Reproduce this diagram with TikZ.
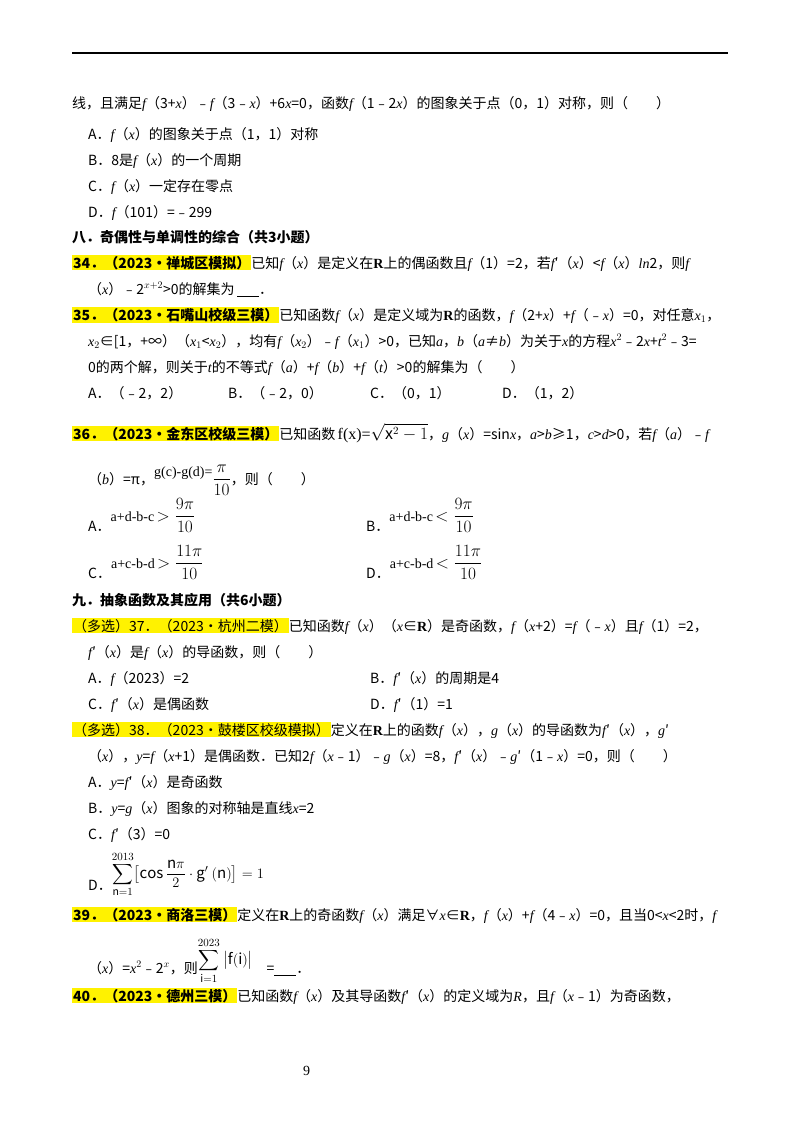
\documentclass[tikz,border=0pt]{standalone}
\usepackage{amsmath}
\usepackage{fontspec}
\setmainfont{Noto Sans CJK SC}
\newfontfamily\lib{Liberation Serif}
\newcommand\mv[1]{{\lib\itshape #1}}
\newcommand\rmq[1]{{\lib #1}}
\newcommand\bR{{\lib\bfseries R}}
\newcommand\hl[1]{\colorbox{yellow}{\bfseries #1}}
\begin{document}
\begin{tikzpicture}[x=1pt,y=-1pt,every node/.style={anchor=base west,inner sep=0pt,font=\fontsize{14}{16}\selectfont}]
\useasboundingbox (0,0) rectangle (800,1132);
\setlength{\fboxsep}{1pt}
\draw[line width=1.2pt] (72,53) -- (728,53);
\node (l1) at (72,108) {线，且满足\mv{f}（3+\mv{x}）﹣\mv{f}（3﹣\mv{x}）+6\mv{x}=0，函数\mv{f}（1﹣2\mv{x}）的图象关于点（0，1）对称，则（　　）};
\node (l2) at (88,139) {A．\mv{f}（\mv{x}）的图象关于点（1，1）对称};
\node (l3) at (88,165) {B．8是\mv{f}（\mv{x}）的一个周期};
\node (l4) at (88,191) {C．\mv{f}（\mv{x}）一定存在零点};
\node (l5) at (88,217) {D．\mv{f}（101）=﹣299};
\node (h8) at (72,242) {\bfseries 八．奇偶性与单调性的综合（共3小题）};
\node (q34) at (72,268) {\hl{34．（2023•禅城区模拟）}已知\mv{f}（\mv{x}）是定义在\bR 上的偶函数且\mv{f}（1）=2，若\mv{f}′（\mv{x}）<\mv{f}（\mv{x}）\mv{ln}2，则\mv{f}};
\node (q34b) at (88,294) {（\mv{x}）﹣2$^{x+2}$>0的解集为\,\underline{\hspace{22pt}}．};
\node (q35) at (72,320) {\hl{35．（2023•石嘴山校级三模）}已知函数\mv{f}（\mv{x}）是定义域为\bR 的函数，\mv{f}（2+\mv{x}）+\mv{f}（﹣\mv{x}）=0，对任意\mv{x}$_1$，};
\node (q35b) at (88,346) {\mv{x}$_2$∈[1，+∞）（\mv{x}$_1$<\mv{x}$_2$），均有\mv{f}（\mv{x}$_2$）﹣\mv{f}（\mv{x}$_1$）>0，已知\mv{a}，\mv{b}（\mv{a}≠\mv{b}）为关于\mv{x}的方程\mv{x}$^2$﹣2\mv{x}+\mv{t}$^2$﹣3=};
\node (q35c) at (88,372) {0的两个解，则关于\mv{t}的不等式\mv{f}（\mv{a}）+\mv{f}（\mv{b}）+\mv{f}（\mv{t}）>0的解集为（　　）};
\node (q35A) at (88,398) {A．（﹣2，2）};
\node (q35B) at (228,398) {B．（﹣2，0）};
\node (q35C) at (370,398) {C．（0，1）};
\node (q35D) at (502,398) {D．（1，2）};
\node (q36) at (72,439) {\hl{36．（2023•金东区校级三模）}已知函数\,{\fontsize{16}{18}\selectfont\rmq{f(x)=$\sqrt{\mathrm{x}^2-1}$}}，\mv{g}（\mv{x}）=sin\mv{x}，\mv{a}>\mv{b}≥1，\mv{c}>\mv{d}>0，若\mv{f}（\mv{a}）﹣\mv{f}};
\node (q36b) at (88,484) {（\mv{b}）=π，\raisebox{8pt}{\rmq{g(c)-g(d)=}}{\fontsize{16}{18}\selectfont$\dfrac{\pi}{10}$}，则（　　）};
\node (q36A) at (88,531) {A．\raisebox{10pt}{\rmq{a+d-b-c}\,{\fontsize{16}{18}\selectfont$>\dfrac{9\pi}{10}$}}};
\node (q36B) at (366,531) {B．\raisebox{10pt}{\rmq{a+d-b-c}\,{\fontsize{16}{18}\selectfont$<\dfrac{9\pi}{10}$}}};
\node (q36C) at (88,578) {C．\raisebox{10pt}{\rmq{a+c-b-d}\,{\fontsize{16}{18}\selectfont$>\dfrac{11\pi}{10}$}}};
\node (q36D) at (366,578) {D．\raisebox{10pt}{\rmq{a+c-b-d}\,{\fontsize{16}{18}\selectfont$<\dfrac{11\pi}{10}$}}};
\node (h9) at (72,605) {\bfseries 九．抽象函数及其应用（共6小题）};
\node (q37) at (72,631) {\hl{\mdseries （多选）37．（2023•杭州二模）}已知函数\mv{f}（\mv{x}）（\mv{x}∈\bR）是奇函数，\mv{f}（\mv{x}+2）=\mv{f}（﹣\mv{x}）且\mv{f}（1）=2，};
\node (q37b) at (88,657) {\mv{f}′（\mv{x}）是\mv{f}（\mv{x}）的导函数，则（　　）};
\node (q37A) at (88,683) {A．\mv{f}（2023）=2};
\node (q37B) at (370,683) {B．\mv{f}′（\mv{x}）的周期是4};
\node (q37C) at (88,709) {C．\mv{f}′（\mv{x}）是偶函数};
\node (q37D) at (370,709) {D．\mv{f}′（1）=1};
\node (q38) at (72,735) {\hl{\mdseries （多选）38．（2023•鼓楼区校级模拟）}定义在\bR 上的函数\mv{f}（\mv{x}），\mv{g}（\mv{x}）的导函数为\mv{f}′（\mv{x}），\mv{g}′};
\node (q38b) at (88,761) {（\mv{x}），\mv{y}=\mv{f}（\mv{x}+1）是偶函数．已知2\mv{f}（\mv{x}﹣1）﹣\mv{g}（\mv{x}）=8，\mv{f}′（\mv{x}）﹣\mv{g}′（1﹣\mv{x}）=0，则（　　）};
\node (q38A) at (88,787) {A．\mv{y}=\mv{f}′（\mv{x}）是奇函数};
\node (q38B) at (88,813) {B．\mv{y}=\mv{g}（\mv{x}）图象的对称轴是直线\mv{x}=2};
\node (q38C) at (88,839) {C．\mv{f}′（3）=0};
\node (q38D) at (88,890) {D．\raisebox{12pt}{\fontsize{15}{17}\selectfont$\displaystyle\sum_{\mathrm{n}=1}^{2013}\bigl[\cos\frac{\mathrm{n}\pi}{2}\cdot \mathrm{g}'\ (\mathrm{n})\bigr]=1$}};
\node (q39) at (72,920) {\hl{39．（2023•商洛三模）}定义在\bR 上的奇函数\mv{f}（\mv{x}）满足∀\mv{x}∈\bR，\mv{f}（\mv{x}）+\mv{f}（4﹣\mv{x}）=0，且当0<\mv{x}<2时，\mv{f}};
\node (q39b) at (88,973) {（\mv{x}）=\mv{x}$^2$﹣2$^x$，则\raisebox{9pt}{\fontsize{15}{17}\selectfont$\displaystyle\sum_{\mathrm{i}=1}^{2023}\ \bigl|\mathrm{f}(\mathrm{i})\bigr|$}\hspace{14pt}=\underline{\hspace{22pt}}．};
\node (q40) at (72,1001) {\hl{40．（2023•德州三模）}已知函数\mv{f}（\mv{x}）及其导函数\mv{f}′（\mv{x}）的定义域为\mv{R}，且\mv{f}（\mv{x}﹣1）为奇函数，};
\node (pg) at (303,1075) {\rmq{9}};
\end{tikzpicture}
\end{document}
